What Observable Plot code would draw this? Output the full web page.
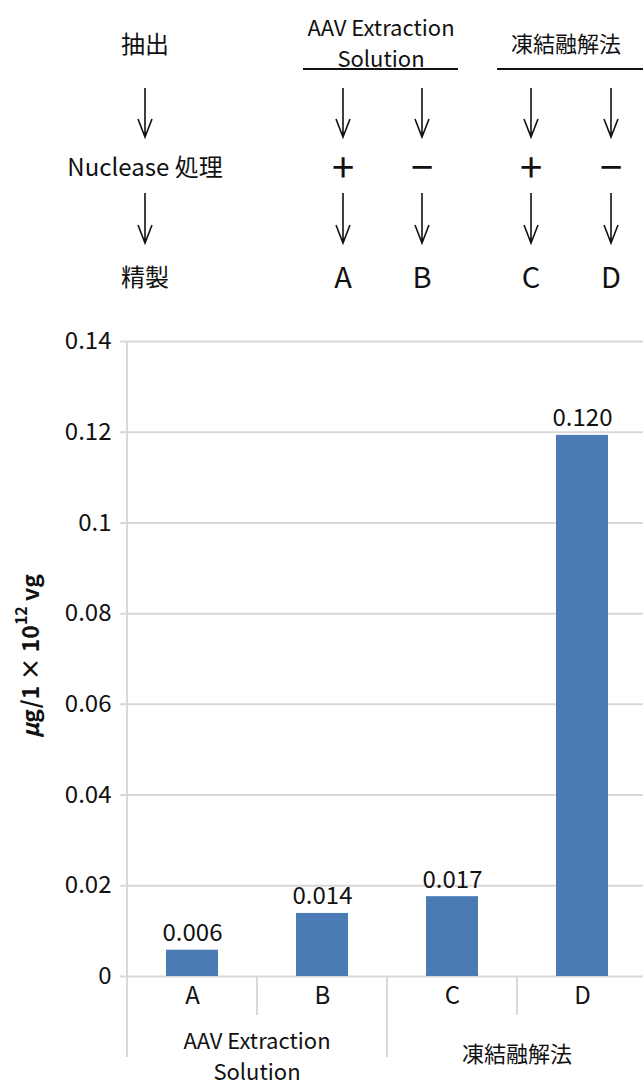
<!DOCTYPE html>
<html><head><meta charset="utf-8">
<script src="https://cdn.jsdelivr.net/npm/d3@7"></script>
<script src="https://cdn.jsdelivr.net/npm/@observablehq/plot@0.6"></script>
<style>body{margin:0;background:#fff} svg{display:block}</style>
</head><body><div id="chart"></div>
<script>
// ---- data ----
const categories = ["A", "B", "C", "D"];
const values = [0.0058, 0.0139, 0.0176, 0.1193];
const valueLabels = ["0.006", "0.014", "0.017", "0.120"];
const groupOf = ["AAV Extraction\nSolution", "AAV Extraction\nSolution", "凍結融解法", "凍結融解法"];
const groupNames = ["AAV Extraction\nSolution", "凍結融解法"];
const yTicks = [0, 0.02, 0.04, 0.06, 0.08, 0.1, 0.12, 0.14];
const yTickLabels = ["0", "0.02", "0.04", "0.06", "0.08", "0.1", "0.12", "0.14"];
const flowRowLabels = ["抽出", "Nuclease 処理", "精製"];
const nucleaseSigns = ["+", "−", "+", "−"];

// ---- layout / style ----
const FONT = '"Noto Sans CJK JP", "Noto Sans", sans-serif';
const GRID = "#d9d9d9";
const BAR = "#4a7bb5";
const L = {
  rowLabelX: 145, rowY: [42, 165, 275],
  colX: [343, 422, 531, 611],
  groupHead: [{x: 381, y: 26, x1: 303, x2: 458}, {x: 566, y: 42, x1: 497, x2: 643}],
  headLineGap: 31,
  headLineY: 69,
  arrowRows: [[88, 137], [193, 243]],
  catLabelBottom: 1015, groupBottom: 1057,
  groupLabelY: [1039, 1052], groupLineGap: 31,
  yTitleX: 29, yTitleY: 656
};

const data = categories.map((c, i) => ({cat: c, value: values[i], label: valueLabels[i], group: groupOf[i]}));

const plot = Plot.plot({
  width: 643, height: 1085,
  marginTop: 341, marginBottom: 109, marginLeft: 120, marginRight: 0,
  style: {fontFamily: FONT, fontSize: "24px", color: "#111", background: "#fff", overflow: "visible"},
  x: {domain: categories, range: [126, 647], paddingInner: 0.6, paddingOuter: 0.3, axis: null, label: null},
  y: {domain: [0, 0.14], axis: null, label: null},
  marks: [
    Plot.ruleY(yTicks, {stroke: GRID, strokeWidth: 2}),
    Plot.axisY(yTicks, {tickSize: 0, tickPadding: 9, fontSize: 24, label: null, tickFormat: d => yTickLabels[yTicks.indexOf(d)]}),
    Plot.barY(data, {x: "cat", y: "value", fill: BAR}),
    Plot.text(data, {x: "cat", y: "value", text: "label", lineAnchor: "bottom", dy: -9, fontSize: 24, fill: "#111"}),
    Plot.axisX({tickSize: 0, tickPadding: 10, fontSize: 24, label: null})
  ]
});
document.getElementById("chart").appendChild(plot);

const svg = d3.select(plot);
const xs = plot.scale("x"), ys = plot.scale("y");
const bw = xs.bandwidth;
const step = xs.apply(categories[1]) - xs.apply(categories[0]);
const bounds = categories.map(c => xs.apply(c) - (step - bw) / 2);
bounds.push(bounds[bounds.length - 1] + step);
const y0 = ys.apply(0), yTop = ys.apply(yTicks[yTicks.length - 1]);

function multiline(sel, x, y, text, size, gap) {
  const tx = sel.append("text").attr("x", x).attr("y", y)
    .attr("text-anchor", "middle").attr("dominant-baseline", "central")
    .attr("font-family", FONT).attr("font-size", size).attr("fill", "#111");
  text.split("\n").forEach((line, li) => {
    tx.append("tspan").attr("x", x).attr("dy", li === 0 ? 0 : gap).text(line);
  });
  return tx;
}

const g = svg.append("g");
// separators / axis line
bounds.forEach((b, i) => {
  const isGroup = i === 0 || i === 2 || i === 4;
  g.append("line").attr("x1", b).attr("x2", b)
    .attr("y1", i === 0 ? yTop : y0)
    .attr("y2", isGroup ? L.groupBottom : L.catLabelBottom)
    .attr("stroke", GRID).attr("stroke-width", 2);
});
// group labels
groupNames.forEach((name, gi) => {
  const cx = (bounds[gi * 2] + bounds[gi * 2 + 2]) / 2;
  multiline(g, cx, L.groupLabelY[gi], name, 22, L.groupLineGap);
});
// y title
const t = g.append("text")
  .attr("transform", `translate(${L.yTitleX},${L.yTitleY}) rotate(-90)`)
  .attr("text-anchor", "middle").attr("dominant-baseline", "central")
  .attr("font-family", FONT).attr("font-size", 23).attr("font-weight", "bold").attr("fill", "#111");
t.append("tspan").attr("font-style", "italic").text("μ");
t.append("tspan").text("g/1 × 10");
t.append("tspan").attr("font-size", 16).attr("dy", -9).text("12");
t.append("tspan").attr("dy", 9).text(" vg");

// ---- flow diagram ----
const f = svg.append("g").attr("font-family", FONT).attr("fill", "#111");
flowRowLabels.forEach((lab, i) => {
  f.append("text").attr("x", L.rowLabelX).attr("y", L.rowY[i]).attr("text-anchor", "middle")
    .attr("dominant-baseline", "central").attr("font-size", 24).text(lab);
});
groupNames.forEach((name, gi) => {
  const h = L.groupHead[gi];
  multiline(f, h.x, h.y, name, 22, L.headLineGap);
  f.append("line").attr("x1", h.x1).attr("x2", h.x2).attr("y1", L.headLineY).attr("y2", L.headLineY)
    .attr("stroke", "#111").attr("stroke-width", 2);
});
const arrowXs = [L.rowLabelX, ...L.colX];
L.arrowRows.forEach(([a, b]) => {
  arrowXs.forEach(x => {
    f.append("path").attr("d", `M${x},${a}V${b}M${x - 7},${b - 18}L${x},${b}L${x + 7},${b - 18}`)
      .attr("fill", "none").attr("stroke", "#111").attr("stroke-width", 1.6);
  });
});
nucleaseSigns.forEach((s, i) => {
  f.append("text").attr("x", L.colX[i]).attr("y", L.rowY[1]).attr("text-anchor", "middle")
    .attr("dominant-baseline", "central").attr("font-size", 40).text(s);
});
categories.forEach((c, i) => {
  f.append("text").attr("x", L.colX[i]).attr("y", L.rowY[2]).attr("text-anchor", "middle")
    .attr("dominant-baseline", "central").attr("font-size", 29).text(c);
});
</script></body></html>
